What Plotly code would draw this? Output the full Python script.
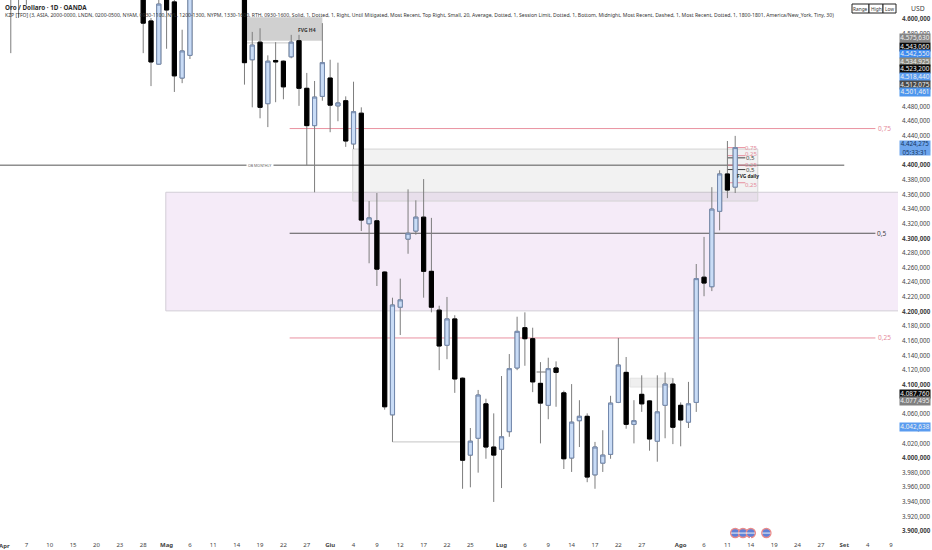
import plotly.graph_objects as go

# ---------- data ----------
bar_index = [1, 2, 3, 18, 19, 20, 21, 22, 23, 24, 31, 32, 33, 34, 35, 36, 37, 38, 39, 40, 41, 42, 43, 44, 45, 46, 47, 48, 49, 50,
             51, 52, 53, 54, 55, 56, 57, 58, 59, 60, 61, 62, 63, 64, 65, 66, 67, 68, 69, 70, 71, 72, 73, 74, 75, 76, 77, 78, 79, 80,
             81, 82, 83, 84, 85, 86, 87, 88, 89, 90, 91, 92, 93, 94]
opens = [4660, 4660, 4650, 4680, 4597, 4538, 4660, 4623, 4519, 4550, 4680, 4544, 4568, 4484, 4543, 4542, 4548, 4570, 4505, 4454, 4494, 4519, 4481, 4488, 4429, 4471, 4320, 4324, 4254, 4059,
         4206, 4299, 4310, 4329, 4255, 4202, 4154, 4190, 4109, 4004, 4027, 4074, 4015, 4012, 4036, 4123, 4178, 4163, 4102, 4072, 4123, 4089, 4000, 4051, 4057, 3977, 3993, 4005, 4076, 4117,
         4046, 4087, 4078, 4023, 4072, 4101, 4072, 4049, 4076, 4247, 4234, 4337, 4388, 4370]
highs = [4680, 4680, 4670, 4700, 4601, 4640, 4680, 4635, 4585, 4660, 4700, 4582, 4587, 4550, 4568, 4543, 4578, 4578, 4526, 4515, 4594, 4544, 4540, 4494, 4514, 4479, 4351, 4362, 4255, 4219,
         4245, 4367, 4352, 4381, 4328, 4208, 4220, 4195, 4110, 4041, 4093, 4081, 4061, 4112, 4142, 4193, 4199, 4178, 4131, 4137, 4132, 4092, 4101, 4079, 4061, 4022, 4038, 4085, 4164, 4138,
         4079, 4113, 4079, 4113, 4117, 4109, 4076, 4104, 4265, 4302, 4370, 4393, 4433, 4440]
lows = [4553, 4601, 4619, 4553, 4508, 4537, 4559, 4500, 4512, 4545, 4510, 4479, 4464, 4452, 4486, 4490, 4546, 4481, 4400, 4363, 4488, 4445, 4460, 4425, 4422, 4310, 4266, 4235, 4066, 4022,
        4168, 4279, 4305, 4219, 4199, 4120, 4135, 4089, 3958, 3960, 3980, 3999, 3940, 3959, 4029, 4120, 4126, 4090, 4020, 4053, 4070, 3985, 3981, 4015, 3967, 3958, 3981, 3999, 4075, 4040,
        4020, 4063, 4010, 3995, 4027, 4019, 4016, 4041, 4063, 4221, 4228, 4311, 4355, 4362]
closes = [4640, 4670, 4660, 4594, 4541, 4620, 4612, 4522, 4556, 4640, 4540, 4564, 4479, 4542, 4541, 4507, 4568, 4505, 4454, 4493, 4540, 4482, 4485, 4433, 4473, 4325, 4328, 4258, 4070, 4209,
          4216, 4307, 4329, 4255, 4206, 4153, 4190, 4108, 3997, 4023, 4086, 4015, 4004, 4029, 4122, 4173, 4163, 4104, 4075, 4122, 4117, 3999, 4049, 4057, 3974, 4015, 4004, 4075, 4127, 4046,
          4051, 4074, 4026, 4063, 4101, 4042, 4052, 4074, 4245, 4239, 4340, 4388, 4366, 4424]

x_tick_index = [3, 6, 9, 12, 15, 18, 21, 24, 27, 30, 33, 36, 39, 42, 45, 48, 51, 54, 57, 60, 64, 67, 70, 73, 76, 79, 82, 87, 90, 93, 96, 99, 102, 105, 108, 111, 114]
x_tick_labels = ["7", "10", "15", "20", "23", "28", "<b>Mag</b>", "6", "11", "14", "19", "22", "27", "<b>Giu</b>", "4", "9", "12", "17", "22", "25",
                 "<b>Lug</b>", "6", "9", "14", "17", "22", "27", "<b>Ago</b>", "6", "11", "14", "19", "24", "27", "<b>Set</b>", "4", "9"]
y_tick_values = [4600, 4580, 4560, 4540, 4520, 4500, 4480, 4460, 4440, 4420, 4400, 4380, 4360, 4340, 4320, 4300, 4280, 4260, 4240, 4220, 4200, 4180, 4160, 4140, 4120, 4100,
                 4080, 4060, 4040, 4020, 4000, 3980, 3960, 3940, 3920, 3900]
y_tick_bold = [4600, 4400, 4300, 4200, 4100, 4000, 3900]

tag_values = [4574, 4562, 4552, 4541, 4531, 4520.5, 4510, 4500, 4087, 4078, 4042.6]
tag_texts = ["4.575,630", "4.543,060", "4.542,550", "4.534,925", "4.523,200", "4.518,440", "4.512,075", "4.501,461", "4.087,760", "4.077,495", "4.042,638"]
tag_colors = ["#858585", "#0a0a0a", "#3f8cf0", "#8a8a80", "#0a0a0a", "#5a9cf0", "#4a4a4a", "#4f97ee", "#0a0a0a", "#808080", "#5a9cf0"]

flag_index = [94, 95, 96, 98]
flag_value = [3897.5, 3897.5, 3897.5, 3897.5]

# ---------- styling ----------
BLUE_FILL = "#c9dcf6"
BLUE_LINE = "#7288ad"
WICK = "#7d7d7d"
PINK = "rgba(226,110,130,0.75)"
PINK_TXT = "#e58b9b"
FONT = "Noto Sans"

body_hi = [max(o, c) for o, c in zip(opens, closes)]
body_lo = [min(o, c) for o, c in zip(opens, closes)]

fig = go.Figure()
fig.add_trace(go.Candlestick(
    x=bar_index, open=opens, high=highs, low=lows, close=closes,
    increasing=dict(line=dict(color=WICK, width=1), fillcolor="rgba(0,0,0,0)"),
    decreasing=dict(line=dict(color=WICK, width=1), fillcolor="rgba(0,0,0,0)"),
    whiskerwidth=0, showlegend=False, hoverinfo="skip"))
fig.add_trace(go.Candlestick(
    x=bar_index, open=opens, high=body_hi, low=body_lo, close=closes,
    increasing=dict(line=dict(color=BLUE_LINE, width=1), fillcolor=BLUE_FILL),
    decreasing=dict(line=dict(color="#000000", width=1), fillcolor="#000000"),
    whiskerwidth=0, showlegend=False, hoverinfo="skip"))
fig.add_trace(go.Scatter(
    x=flag_index, y=flag_value, mode="markers", showlegend=False, hoverinfo="skip", cliponaxis=False,
    marker=dict(symbol="circle", size=9, color="#5f82d8", line=dict(color="#e98a8a", width=1.5))))
fig.add_trace(go.Scatter(
    x=flag_index, y=flag_value, mode="markers", showlegend=False, hoverinfo="skip", cliponaxis=False,
    marker=dict(symbol="line-ew", size=6, line=dict(color="#f2f2f2", width=1))))

shapes = []
def rect(x0, x1, y0, y1, fill, line="rgba(0,0,0,0)"):
    shapes.append(dict(type="rect", xref="x", yref="y", x0=x0, x1=x1, y0=y0, y1=y1, fillcolor=fill,
                       line=dict(color=line, width=1), layer="below"))
def hline(x0, x1, y, color, width=1):
    shapes.append(dict(type="line", xref="x", yref="y", x0=x0, x1=x1, y0=y, y1=y,
                       line=dict(color=color, width=width), layer="below"))

rect(20.9, 115, 4201, 4363, "#f5ebf8", "#d2cdd6")
rect(44.9, 96.9, 4351, 4422, "rgba(110,110,110,0.09)", "#d4d4d4")
rect(31.3, 41.0, 4570, 4602, "#d0d0d0")
rect(80.5, 86, 4097, 4109, "#efefef", "#e2e2e2")
hline(31.3, 36.8, 4567, "#c8c8c8")
hline(50, 59, 4022, "#c4c4c4")
hline(68.5, 70, 4117.5, "#777777")
hline(-0.4, 108, 4400, "#555555")
hline(36.8, 112, 4307, "#555555")
hline(36.8, 112, 4450, PINK)
hline(36.8, 112, 4164, PINK)
hline(93, 95.3, 4424, PINK)
hline(93, 95.3, 4413, PINK)
hline(93, 95.3, 4400, PINK)
hline(93, 95.3, 4376, PINK)
hline(93, 95.3, 4410, "#444444")
hline(93, 95.3, 4394, "#444444")

# button frame of the range selector
for x0, x1 in [(852, 869), (869, 883), (883, 896)]:
    shapes.append(dict(type="rect", xref="paper", yref="paper", x0=x0 / 898, x1=x1 / 898,
                       y0=1 - 13 / 536, y1=1 - 4 / 536, fillcolor="white", line=dict(color="#222222", width=1)))

ann = []
def note(x, y, text, size=6.5, color="#444444", anchor="center", bg=None):
    a = dict(xref="x", yref="y", x=x, y=y, text=text, showarrow=False, xanchor=anchor, yanchor="middle",
             font=dict(family=FONT, size=size, color=color))
    if bg:
        a["bgcolor"] = bg
    ann.append(a)
def pnote(px, py, text, size=6.5, color="#333333", anchor="left"):
    ann.append(dict(xref="paper", yref="paper", x=px / 898, y=1 - py / 536, text=text, showarrow=False,
                    xanchor=anchor, yanchor="middle", font=dict(family=FONT, size=size, color=color)))

pnote(3, 7.5, "<b>Oro / Dollaro · 1D · OANDA</b>", 6.3, "#2a2a2a")
pnote(3, 15, "KZP [TFO] (3, ASIA, 2000-0000, LNDN, 0200-0500, NYAM, 0930-1100, NYL, 1200-1300, NYPM, 1330-1600, RTH, 0930-1600, Solid, 1, Dotted, 1, Right, Until Mitigated, Most Recent, Top Right, Small, 20, Average, Dotted, 1, Session Limit, Dotted, 1, Bottom, Midnight, Most Recent, Dashed, 1, Most Recent, Dotted, 1, 1800-1801, America/New_York, Tiny, 30)", 5.1, "#333333")
pnote(860.5, 9, "Range", 4.8, "#333333", "center")
pnote(876, 9, "High", 4.8, "#333333", "center")
pnote(889.5, 9, "Low", 4.8, "#333333", "center")
pnote(909, 8, "USD", 6.8, "#444444", "left")
pnote(-3, 545.5, "<b>Apr</b>", 6, "#444444", "left")

note(33, 4400, "OB MONTHLY", 3.6, "#666666", bg="white")
note(40.5, 4585, "<b>FVG H4</b>", 5, "#333333", "right")
note(113.2, 4450, "0,75", 6.5, PINK_TXT)
note(112.8, 4307, "0,5", 6.5, "#444444")
note(113.2, 4164, "0,25", 6.5, PINK_TXT)
note(96, 4424, "0,75", 6, PINK_TXT)
note(96, 4415, "0,25", 6, PINK_TXT)
note(95.9, 4410, "0,5", 6, "#444444")
note(96, 4400, "0,25", 6, PINK_TXT)
note(95.9, 4394, "0,5", 6, "#444444")
note(95.7, 4385, "<b>FVG daily</b>", 4.8, "#222222")
note(96, 4373, "0,25", 6, PINK_TXT)

for v, t, c in zip(tag_values, tag_texts, tag_colors):
    ann.append(dict(xref="paper", yref="y", x=899 / 898, y=v, text=t, showarrow=False, xanchor="left", yanchor="middle",
                    width=30, height=7.6, borderpad=0, bgcolor=c, align="center",
                    font=dict(family=FONT, size=6.4, color="#f0f0f0")))
ann.append(dict(xref="paper", yref="y", x=899 / 898, y=4423, text="4.424,275<br>05:33:31", showarrow=False, xanchor="left",
                yanchor="middle", width=30, height=14, borderpad=0, bgcolor="#6ea6ee", align="center",
                font=dict(family=FONT, size=6.2, color="#17365f")))

fig.update_layout(
    width=932, height=550, autosize=False, margin=dict(l=0, r=34, t=0, b=14),
    paper_bgcolor="white", plot_bgcolor="white", boxgap=0.24, showlegend=False,
    shapes=shapes, annotations=ann,
    xaxis=dict(range=[-0.385, 114.9], rangeslider=dict(visible=False), showgrid=False, zeroline=False, showline=False,
               tickmode="array", tickvals=x_tick_index, ticktext=x_tick_labels, ticks="outside", ticklen=3, tickcolor="white",
               tickangle=0, tickfont=dict(family=FONT, size=6, color="#444444")),
    yaxis=dict(range=[3893.5, 4625.6], side="right", showgrid=False, zeroline=False, showline=False,
               tickmode="array", tickvals=y_tick_values, ticklabelstandoff=3,
               ticktext=[(f"<b>{v // 1000}.{v % 1000:03d},000</b>" if v in y_tick_bold else f"{v // 1000}.{v % 1000:03d},000") for v in y_tick_values],
               ticks="", tickfont=dict(family=FONT, size=6.2, color="#444444")),
)
fig.write_html("out.html", config=dict(displayModeBar=False),
               post_script="document.body.style.margin='0';document.documentElement.style.overflow='hidden';")
